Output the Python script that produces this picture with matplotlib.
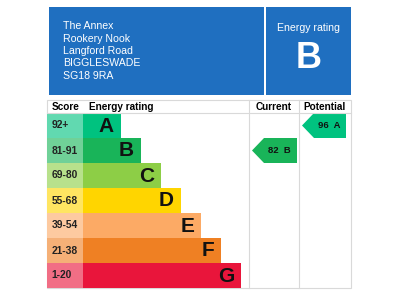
import matplotlib.pyplot as plt
from matplotlib.patches import Polygon, Rectangle
from matplotlib.colors import to_rgb

plt.rcParams['font.family'] = ['Liberation Sans', 'DejaVu Sans']

# Data
address = ['The Annex', 'Rookery Nook', 'Langford Road', 'BIGGLESWADE', 'SG18 9RA']
bands = ['A', 'B', 'C', 'D', 'E', 'F', 'G']
score_ranges = ['92+', '81-91', '69-80', '55-68', '39-54', '21-38', '1-20']
band_mins = [92, 81, 69, 55, 39, 21, 1]
band_colors = ['#00c27f', '#19b459', '#8dce46', '#ffd500', '#fcaa65', '#ef8023', '#e9153b']
current_score = 82
potential_score = 96

blue = '#1f6fc0'
grid = '#d9d9d9'


def band_of(score):
    for i, m in enumerate(band_mins):
        if score >= m:
            return i
    return len(bands) - 1


def tint(c, a=0.62):
    r, g, b = to_rgb(c)
    return (1 - a + a * r, 1 - a + a * g, 1 - a + a * b)


fig = plt.figure(figsize=(4, 3), dpi=100)
ax = fig.add_axes([0, 0, 1, 1])
ax.set_xlim(0, 400)
ax.set_ylim(300, 0)
ax.axis('off')

# header boxes
ax.add_patch(Rectangle((49, 7), 215, 88, color=blue, lw=0))
ax.add_patch(Rectangle((266, 7), 85, 88, color=blue, lw=0))
for i, line in enumerate(address):
    ax.text(63, 26 + i * 12.5, line, color='white', fontsize=7.6, va='center', ha='left')
ax.text(308.5, 28, 'Energy rating', color='white', fontsize=7.6, ha='center', va='center')
ax.text(308.5, 58, bands[band_of(current_score)], color='white', fontsize=26,
        fontweight='bold', ha='center', va='center')

# table
top, head_h, row_h = 100, 13, 25
left, score_w, right = 47, 36, 351
col_cur, col_pot = 249, 299
bottom = top + head_h + row_h * len(bands)

ax.add_patch(Rectangle((left, top), right - left, bottom - top, fill=False, ec=grid, lw=0.8))
ax.plot([left, right], [top + head_h, top + head_h], color=grid, lw=0.8)
for x in (col_cur, col_pot):
    ax.plot([x, x], [top, bottom], color=grid, lw=0.8)

hy = top + head_h / 2
ax.text(52, hy, 'Score', fontsize=7.2, fontweight='bold', va='center')
ax.text(89, hy, 'Energy rating', fontsize=7.2, fontweight='bold', va='center')
ax.text((col_cur + col_pot) / 2, hy, 'Current', fontsize=7.2, fontweight='bold', va='center', ha='center')
ax.text((col_pot + right) / 2, hy, 'Potential', fontsize=7.2, fontweight='bold', va='center', ha='center')

ys = [top + head_h + row_h * (i + 0.5) for i in range(len(bands))]
bar_left = left + score_w
widths = [38 + 20 * i for i in range(len(bands))]
ax.barh(ys, [score_w] * len(bands), left=left, height=row_h,
        color=[tint(c) for c in band_colors], lw=0)
ax.barh(ys, widths, left=bar_left, height=row_h, color=band_colors, lw=0)
for y, rng, band, w in zip(ys, score_ranges, bands, widths):
    ax.text(51.5, y, rng, fontsize=7.4, fontweight='bold', va='center', color='#222222')
    ax.text(bar_left + w - 7, y + 0.5, band, fontsize=15, fontweight='bold',
            va='center', ha='right', color='#111111')


def arrow(x0, x1, score):
    i = band_of(score)
    y0 = top + head_h + row_h * i
    y1 = y0 + row_h
    ym = (y0 + y1) / 2
    pts = [(x0, ym), (x0 + 12, y0), (x1, y0), (x1, y1), (x0 + 12, y1)]
    ax.add_patch(Polygon(pts, closed=True, color=band_colors[i], lw=0))
    ax.text((x0 + 12 + x1) / 2 - 1, ym, f'{score}  {bands[i]}', fontsize=6.8,
            fontweight='bold', ha='center', va='center', color='#111111')


arrow(252, 297, current_score)
arrow(302, 346, potential_score)

fig.savefig('out.png', dpi=100)
